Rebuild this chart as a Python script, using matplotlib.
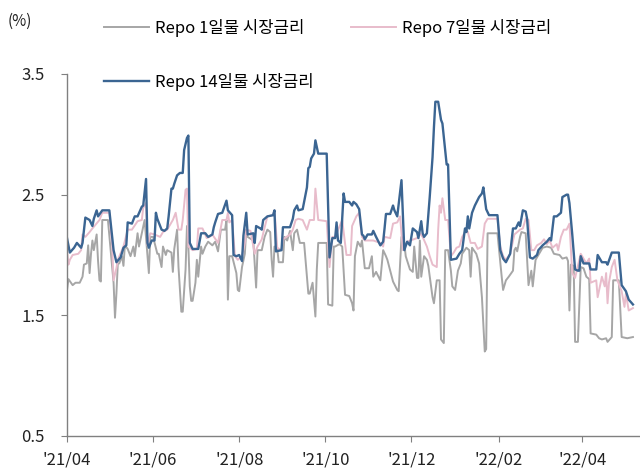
import matplotlib
matplotlib.use('Agg')
import matplotlib.pyplot as plt
import matplotlib.dates as mdates
import pandas as pd

plt.rcParams['font.family'] = ['Noto Sans CJK KR', 'DejaVu Sans']

# days counted from 2021-04-01, values in %
start = pd.Timestamp('2021-04-01')

gray_days = [0, 1, 4, 6, 9, 11, 12, 14, 15, 16, 17, 18, 19, 21, 22, 23, 24, 25, 29, 31, 33, 34, 35, 36, 37, 39, 40, 41, 43, 45,
             47, 48, 50, 51, 53, 55, 58, 59, 61, 64, 65, 67, 68, 70, 71, 74, 75, 76, 78, 79, 81, 82, 84, 85, 86, 87, 88, 89, 91, 92,
             93, 95, 96, 98, 100, 103, 105, 107, 109, 112, 113, 114, 115, 117, 120, 121, 122, 124, 126, 127, 128, 132, 134, 135, 138,
             140, 142, 144, 145, 146, 147, 149, 150, 153, 154, 156, 158, 160, 161, 163, 165, 168, 169, 171, 172, 174, 176, 177, 178,
             184, 185, 188, 189, 190, 193, 195, 197, 200, 202, 203, 204, 206, 208, 209, 211, 214, 216, 217, 219, 222, 224, 226, 227,
             231, 234, 235, 236, 237, 239, 240, 243, 245, 246, 248, 249, 250, 251, 253, 255, 256, 259, 260, 262, 264, 265, 267, 268,
             270, 272, 273, 275, 277, 279, 280, 283, 285, 286, 287, 290, 292, 294, 296, 297, 298, 305, 308, 309, 311, 313, 316, 317,
             318, 319, 321, 322, 325, 326, 327, 329, 330, 332, 334, 337, 340, 343, 345, 349, 351, 354, 355, 356, 357, 359, 360, 362,
             364, 366, 368, 370, 371, 375, 377, 379, 382, 383, 386, 387, 391, 393, 397, 401]
gray_vals = [1.71, 1.80, 1.75, 1.77, 1.77, 1.82, 1.92, 1.93, 2.08, 1.85, 2.01, 2.12, 2.04, 2.17, 1.95, 1.79, 1.78, 2.29, 2.29, 2.03,
             1.77, 1.48, 1.68, 1.93, 1.93, 1.99, 1.91, 2.08, 2.05, 1.99, 2.07, 1.99, 2.18, 2.07, 2.18, 2.29, 1.85, 2.15, 2.15, 2.01,
             2.01, 1.90, 2.07, 2.00, 2.04, 2.02, 1.86, 2.05, 2.21, 1.90, 1.53, 1.53, 1.88, 2.24, 2.07, 1.74, 1.62, 1.62, 1.77, 1.96,
             1.82, 2.07, 2.01, 2.07, 2.11, 2.08, 2.11, 2.03, 2.21, 2.21, 2.29, 1.63, 1.99, 1.99, 1.85, 1.71, 1.70, 1.90, 2.01, 2.21,
             2.15, 2.12, 1.73, 2.04, 2.04, 2.15, 2.21, 2.19, 1.96, 1.82, 2.07, 2.05, 1.94, 1.94, 2.15, 2.12, 2.20, 2.04, 2.18, 2.21,
             2.10, 2.10, 1.96, 1.68, 1.68, 1.77, 1.49, 1.88, 2.10, 2.10, 1.59, 1.58, 2.07, 2.07, 2.09, 2.07, 1.67, 1.66, 1.60, 1.54,
             1.99, 2.11, 2.07, 2.12, 1.89, 1.89, 1.99, 1.82, 1.86, 1.79, 2.04, 1.99, 1.96, 1.78, 1.71, 1.70, 1.93, 2.15, 2.10, 1.99,
             1.88, 1.86, 2.07, 1.81, 1.81, 2.12, 1.82, 1.99, 1.96, 1.91, 1.65, 1.60, 1.79, 1.79, 1.30, 1.27, 2.04, 2.04, 1.87, 1.74,
             1.71, 1.87, 1.93, 2.01, 2.06, 2.04, 1.82, 2.06, 2.01, 1.93, 1.65, 1.20, 1.22, 2.18, 2.18, 1.82, 1.71, 1.79, 1.82, 1.87,
             2.04, 2.06, 2.03, 2.15, 2.19, 2.18, 1.96, 1.75, 1.87, 1.74, 1.96, 2.00, 2.06, 2.07, 2.06, 2.01, 2.00, 1.97, 1.98, 1.95,
             1.54, 1.92, 1.91, 1.28, 1.28, 1.90, 1.89, 1.82, 1.80, 1.35, 1.34, 1.31, 1.30, 1.31, 1.28, 1.32, 1.79, 1.79, 1.32, 1.31,
             1.32]

pink_days = [0, 1, 2, 4, 8, 10, 11, 13, 16, 18, 23, 25, 30, 32, 33, 35, 36, 40, 43, 46, 50, 53, 54, 56, 57, 59, 62, 66, 68, 71,
             75, 77, 79, 81, 82, 84, 85, 86, 89, 92, 93, 96, 99, 101, 103, 107, 110, 113, 114, 115, 117, 119, 121, 124, 126, 127,
             130, 133, 135, 138, 139, 142, 146, 147, 149, 152, 153, 158, 160, 162, 164, 167, 170, 172, 175, 176, 178, 184, 186, 188,
             190, 195, 198, 201, 202, 205, 207, 209, 211, 217, 222, 224, 225, 229, 231, 234, 236, 238, 241, 248, 250, 252, 255, 257,
             259, 262, 263, 264, 265, 266, 268, 270, 272, 274, 276, 278, 280, 283, 284, 286, 289, 291, 294, 296, 298, 305, 307, 309,
             311, 314, 317, 321, 323, 325, 327, 329, 331, 333, 336, 338, 340, 342, 344, 347, 348, 350, 352, 354, 356, 358, 360, 364,
             368, 370, 371, 375, 376, 379, 381, 382, 383, 384, 386, 388, 390, 393, 395, 396, 398, 401]
pink_vals = [2.04, 1.92, 1.96, 2.00, 2.01, 2.04, 2.17, 2.15, 2.19, 2.22, 2.29, 2.35, 2.35, 2.07, 1.79, 1.89, 1.96, 2.07, 2.21, 2.21,
             2.28, 2.29, 2.39, 2.43, 2.08, 2.18, 2.17, 2.15, 2.19, 2.21, 2.29, 2.35, 2.21, 2.21, 2.29, 2.54, 2.55, 2.07, 2.04, 2.05,
             2.22, 2.22, 2.14, 2.15, 2.17, 2.10, 2.29, 2.29, 2.35, 2.27, 2.29, 1.99, 1.96, 1.99, 2.10, 2.21, 2.20, 2.01, 2.07, 2.13,
             2.18, 2.32, 2.33, 2.37, 2.06, 2.04, 2.13, 2.17, 2.21, 2.29, 2.30, 2.29, 2.21, 2.29, 2.29, 2.55, 2.29, 2.28, 1.90, 2.15,
             2.15, 2.29, 2.00, 2.00, 2.24, 2.32, 2.35, 2.15, 2.12, 2.12, 2.10, 2.07, 2.15, 2.14, 2.26, 2.27, 2.32, 2.04, 2.11, 2.14,
             2.18, 2.15, 2.07, 1.99, 1.92, 1.90, 2.21, 2.41, 2.35, 2.47, 2.29, 2.29, 1.99, 2.02, 2.06, 2.07, 2.15, 2.21, 2.19, 2.10,
             2.10, 2.05, 2.07, 2.26, 2.30, 2.30, 2.07, 1.99, 1.96, 2.01, 2.17, 2.21, 2.22, 2.30, 2.29, 2.04, 2.04, 2.08, 2.10, 2.13,
             2.09, 2.12, 2.06, 2.09, 2.04, 2.15, 2.21, 2.21, 2.26, 1.85, 1.81, 2.01, 1.93, 1.97, 1.77, 1.79, 1.65, 1.82, 1.74, 1.85,
             1.60, 1.77, 1.90, 1.96, 1.79, 1.70, 1.57, 1.68, 1.54, 1.56]

blue_days = [0, 2, 5, 7, 10, 11, 13, 16, 18, 19, 21, 22, 25, 30, 33, 35, 38, 40, 42, 43, 46, 48, 50, 53, 54, 56, 57, 58, 60, 62,
             63, 64, 67, 69, 71, 72, 74, 75, 76, 78, 80, 82, 83, 85, 86, 87, 89, 93, 95, 98, 100, 103, 104, 105, 107, 110, 113, 114,
             117, 118, 120, 122, 124, 125, 127, 128, 132, 133, 134, 137, 138, 139, 142, 146, 147, 148, 152, 153, 158, 160, 161, 163,
             164, 167, 170, 171, 172, 173, 175, 176, 178, 184, 186, 188, 190, 191, 192, 194, 196, 197, 200, 202, 203, 205, 207, 209,
             210, 211, 213, 216, 217, 219, 222, 224, 225, 226, 229, 231, 232, 234, 237, 239, 241, 243, 245, 248, 249, 251, 252, 253,
             255, 257, 259, 260, 261, 263, 265, 266, 269, 270, 272, 276, 278, 280, 282, 283, 284, 285, 287, 289, 292, 294, 295, 297,
             299, 305, 307, 309, 311, 314, 316, 318, 320, 321, 323, 325, 326, 328, 330, 333, 334, 337, 340, 342, 343, 345, 347, 350,
             351, 354, 355, 356, 358, 360, 362, 363, 364, 366, 370, 371, 375, 376, 379, 382, 383, 386, 391, 393, 396, 398, 401]
blue_vals = [2.14, 2.02, 2.06, 2.10, 2.06, 2.10, 2.31, 2.29, 2.24, 2.30, 2.37, 2.32, 2.37, 2.37, 2.04, 1.94, 1.98, 2.06, 2.08, 2.27,
             2.26, 2.32, 2.32, 2.40, 2.41, 2.63, 2.10, 2.06, 2.12, 2.12, 2.35, 2.30, 2.21, 2.20, 2.22, 2.32, 2.55, 2.55, 2.59, 2.66,
             2.68, 2.68, 2.87, 2.97, 2.99, 2.10, 2.05, 2.05, 2.18, 2.18, 2.15, 2.17, 2.23, 2.27, 2.34, 2.35, 2.45, 2.37, 2.33, 2.00,
             1.99, 2.00, 1.95, 2.16, 2.35, 2.17, 2.18, 2.10, 2.24, 2.22, 2.21, 2.29, 2.32, 2.33, 2.37, 2.03, 2.04, 2.23, 2.23, 2.30,
             2.37, 2.41, 2.37, 2.38, 2.56, 2.72, 2.73, 2.80, 2.84, 2.95, 2.84, 2.84, 1.98, 2.14, 2.14, 2.27, 2.12, 2.10, 2.51, 2.44,
             2.44, 2.41, 2.44, 2.42, 2.38, 2.17, 2.16, 2.13, 2.17, 2.17, 2.20, 2.15, 2.08, 2.11, 2.22, 2.34, 2.34, 2.41, 2.37, 2.32,
             2.62, 2.04, 2.11, 2.08, 2.22, 2.19, 2.14, 2.28, 2.18, 2.15, 2.18, 2.48, 2.81, 3.06, 3.27, 3.27, 3.12, 3.09, 2.75, 2.75,
             1.96, 1.97, 2.01, 2.04, 2.22, 2.19, 2.32, 2.22, 2.35, 2.41, 2.48, 2.51, 2.56, 2.38, 2.33, 2.33, 2.04, 1.97, 1.94, 2.01,
             2.22, 2.22, 2.27, 2.24, 2.37, 2.36, 2.30, 1.98, 1.97, 2.00, 2.04, 2.08, 2.11, 2.14, 2.12, 2.32, 2.32, 2.35, 2.48, 2.50,
             2.50, 2.43, 2.17, 1.88, 1.87, 1.87, 1.99, 1.93, 1.93, 1.88, 1.88, 2.00, 1.94, 1.94, 1.92, 2.02, 2.02, 1.75, 1.70, 1.63,
             1.59]

names = ['Repo 1일물 시장금리', 'Repo 7일물 시장금리', 'Repo 14일물 시장금리']
colors = ['#a6a6a6', '#e8bccb', '#3b6592']

def to_dates(days):
    return start + pd.to_timedelta(days, unit='D')

fig = plt.figure(figsize=(6.4, 4.74), dpi=100)
ax = fig.add_axes([0.1047, 0.0802, 0.8953, 0.7637])

l1, = ax.plot(to_dates(gray_days), gray_vals, color=colors[0], lw=1.4, label=names[0])
l2, = ax.plot(to_dates(pink_days), pink_vals, color=colors[1], lw=1.4, label=names[1])
l3, = ax.plot(to_dates(blue_days), blue_vals, color=colors[2], lw=1.7, label=names[2])

ax.set_ylim(0.5, 3.5)
ax.set_yticks([0.5, 1.5, 2.5, 3.5])
ax.set_yticklabels(['0.5', '1.5', '2.5', '3.5'])
ax.set_xlim(start, pd.Timestamp('2022-05-12'))
ax.xaxis.set_major_locator(mdates.MonthLocator(bymonth=[2, 4, 6, 8, 10, 12]))
ax.xaxis.set_major_formatter(mdates.DateFormatter("'%y/%m"))

for s in ['top', 'right']:
    ax.spines[s].set_visible(False)
for s in ['left', 'bottom']:
    ax.spines[s].set_color('#808080')
    ax.spines[s].set_linewidth(1.0)
ax.tick_params(axis='y', length=4, color='#808080', pad=12, labelsize=12, labelcolor='#222222')
ax.tick_params(axis='x', length=4, color='#808080', pad=7, labelsize=12, labelcolor='#222222')

fig.text(0.012, 0.955, '(%)', fontsize=11, color='#222222', va='center')

fig.legend([l1, l3, l2], [names[0], names[2], names[1]], ncol=2, loc='upper left',
           bbox_to_anchor=(0.155, 0.97), frameon=False, fontsize=12,
           handlelength=2.7, handletextpad=0.35, columnspacing=2.25,
           labelspacing=2.15, borderaxespad=0, borderpad=0.3)

fig.savefig('out.png', dpi=100)
